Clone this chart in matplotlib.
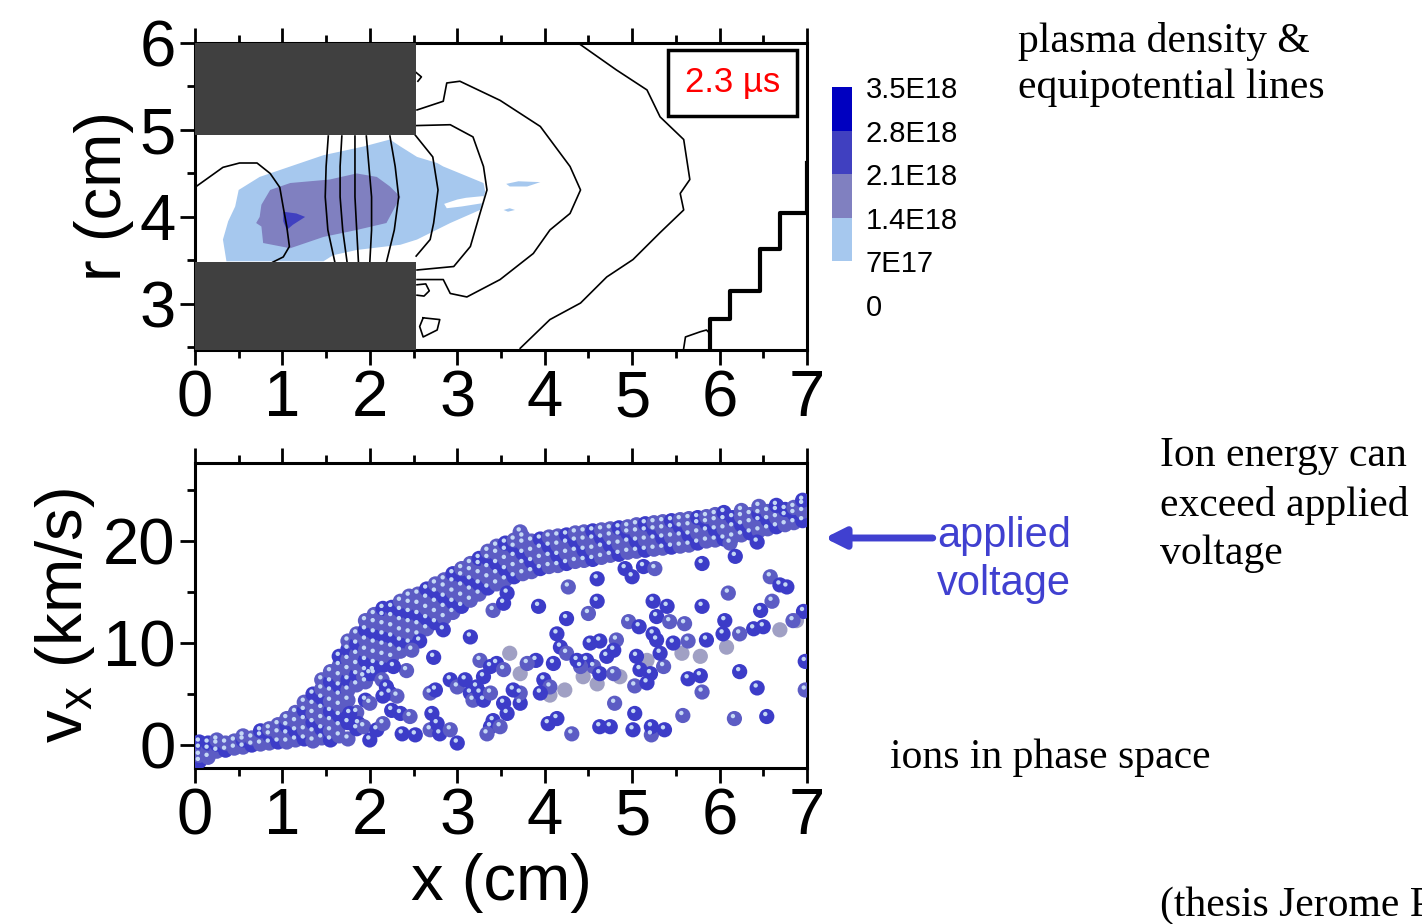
import numpy as np
import matplotlib
matplotlib.use('Agg')
import matplotlib.pyplot as plt
from matplotlib.colors import ListedColormap, BoundaryNorm
from matplotlib.cm import ScalarMappable
from matplotlib.patches import Rectangle, Polygon
from matplotlib.ticker import MultipleLocator
from matplotlib.transforms import offset_copy

plt.rcParams['font.family'] = ['Liberation Sans', 'DejaVu Sans']
plt.rcParams['mathtext.default'] = 'regular'

# ---- top panel: plasma density (filled levels) and equipotential lines ----
density_levels = [0, 7e17, 1.4e18, 2.1e18, 2.8e18, 3.5e18]
density_labels = ['0', '7E17', '1.4E18', '2.1E18', '2.8E18', '3.5E18']
density_colors = ['white', '#A6C8EE', '#8080C0', '#4040C0', '#0000C0']

# density regions (outline in x[cm], r[cm]) and the density value inside
light_x = [0.36, 0.32, 0.38, 0.46, 0.50, 0.74, 1.09, 1.47, 1.93, 2.23, 2.35, 2.54, 2.77, 2.84,
           3.30, 3.32, 3.26, 2.92, 2.54, 2.35, 1.85, 1.58, 1.47]
light_r = [3.49, 3.74, 3.95, 4.12, 4.31, 4.46, 4.58, 4.71, 4.81, 4.89, 4.81, 4.69, 4.62, 4.58,
           4.39, 4.29, 4.08, 3.93, 3.74, 3.68, 3.62, 3.56, 3.49]
patch1_x = [3.56, 3.70, 3.95, 3.80, 3.60]
patch1_r = [4.38, 4.41, 4.40, 4.35, 4.35]
patch2_x = [3.53, 3.60, 3.66, 3.58]
patch2_r = [4.08, 4.10, 4.08, 4.06]
hole_x = [2.85, 3.00, 3.10, 3.30, 3.30, 3.05, 2.88]
hole_r = [4.15, 4.20, 4.22, 4.24, 4.16, 4.12, 4.10]
mid_x = [0.76, 0.86, 1.09, 1.54, 1.85, 2.08, 2.23, 2.35, 2.19, 1.85, 1.47, 1.09, 0.78, 0.76, 0.70, 0.74]
mid_r = [4.14, 4.31, 4.39, 4.43, 4.50, 4.46, 4.35, 4.23, 3.93, 3.85, 3.77, 3.64, 3.70, 3.89, 3.93, 4.00]
core_x = [1.01, 1.16, 1.26, 1.12, 1.05, 1.01]
core_r = [4.06, 4.04, 4.00, 3.91, 3.85, 3.95]
light_val, mid_val, core_val = 1.0e18, 1.7e18, 2.4e18

# equipotential lines
equi_lines = [
    ([0.00, 0.32, 0.51, 0.71, 0.86, 0.97, 1.01, 1.05, 1.08, 1.01, 0.89],
     [4.34, 4.57, 4.62, 4.62, 4.50, 4.34, 4.11, 3.89, 3.66, 3.54, 3.48]),
    ([1.525, 1.50, 1.49, 1.52, 1.60], [4.93, 4.58, 4.23, 3.85, 3.48]),
    ([1.68, 1.66, 1.66, 1.69, 1.74], [4.93, 4.58, 4.23, 3.85, 3.48]),
    ([1.83, 1.83, 1.83, 1.85, 1.87], [4.93, 4.58, 4.23, 3.85, 3.48]),
    ([1.96, 1.99, 2.02, 2.02, 2.00], [4.93, 4.58, 4.23, 3.85, 3.48]),
    ([2.23, 2.29, 2.33, 2.28, 2.19], [4.93, 4.58, 4.23, 3.85, 3.48]),
    ([2.52, 2.72, 2.78, 2.73, 2.69, 2.53], [4.94, 4.69, 4.31, 3.93, 3.74, 3.55]),
    ([2.52, 2.92, 3.18, 3.30, 3.34, 3.26, 3.15, 2.96, 2.54],
     [5.05, 5.06, 4.92, 4.58, 4.31, 4.04, 3.66, 3.43, 3.39]),
    ([2.54, 2.84, 2.88, 3.03, 3.49, 3.95, 4.29, 4.41, 4.29, 4.06, 3.87, 3.49, 3.11, 2.92, 2.84, 2.54],
     [5.23, 5.33, 5.54, 5.56, 5.34, 5.04, 4.58, 4.31, 4.04, 3.85, 3.58, 3.28, 3.08, 3.12, 3.28, 3.28]),
    ([4.41, 4.82, 5.17, 5.32, 5.59, 5.66, 5.55, 5.59, 5.32, 5.01, 4.71, 4.41, 4.06, 3.72],
     [5.98, 5.69, 5.46, 5.15, 4.89, 4.43, 4.27, 4.08, 3.82, 3.51, 3.31, 3.01, 2.82, 2.49]),
    ([2.61, 2.80, 2.77, 2.61, 2.57, 2.61], [2.84, 2.82, 2.70, 2.62, 2.74, 2.84]),
    ([2.54, 2.64, 2.68, 2.62, 2.54], [3.22, 3.23, 3.15, 3.09, 3.10]),
    ([2.53, 2.59, 2.55], [5.66, 5.61, 5.56]),
    ([5.59, 5.61, 5.78, 5.85, 5.89], [2.49, 2.62, 2.68, 2.70, 2.66]),
]
stair_x = [7.00, 7.00, 6.69, 6.69, 6.46, 6.46, 6.12, 6.12, 5.89, 5.89]
stair_r = [4.62, 4.04, 4.04, 3.63, 3.63, 3.15, 3.15, 2.83, 2.83, 2.47]

# electrodes (x0, x1, r0, r1)
electrodes = [(0.0, 2.53, 4.94, 6.0), (0.0, 2.53, 2.47, 3.48)]

# ---- bottom panel: ions in phase space (x [cm], vx [km/s]) ----
band_cols = [round(0.05 + 0.1 * i, 2) for i in range(70)]
band_vs = [
    [-1.6, -1.0, -0.3, 0.3], [-1.2, -0.4, 0.2], [-0.6, 0.1, 0.5], [-0.5, 0.2], [-0.3, 0.4],
    [-0.2, 0.5, 0.9], [0.0, 0.7], [0.1, 0.9, 1.4], [0.2, 1.0, 1.6], [0.3, 1.2, 2.0],
    [0.3, 1.1, 1.9, 2.6], [0.5, 1.4, 2.3, 3.2], [0.6, 1.5, 2.5, 3.4, 4.2],
    [0.4, 1.3, 2.2, 3.1, 4.0, 5.0], [0.7, 1.6, 2.6, 3.6, 4.6, 5.5, 6.4],
    [0.5, 1.4, 2.4, 3.3, 4.3, 5.3, 6.2, 7.2], [0.9, 1.9, 2.9, 3.9, 4.9, 5.8, 6.8, 7.8, 8.7],
    [0.6, 2.2, 4.4, 5.4, 6.4, 7.4, 8.4, 9.4, 10.2], [1.6, 3.2, 5.9, 6.9, 7.9, 8.9, 9.9, 10.9],
    [6.2, 7.3, 8.3, 9.3, 10.3, 11.3, 12.2], [7.0, 8.0, 9.0, 10.0, 11.0, 12.0, 12.8],
    [7.8, 8.8, 9.8, 10.8, 11.8, 12.7, 13.4], [8.6, 9.6, 10.6, 11.6, 12.6, 13.5],
    [9.2, 10.2, 11.2, 12.2, 13.2, 14.1], [10.0, 11.0, 12.0, 13.0, 13.9, 14.6],
    [10.8, 11.8, 12.8, 13.8, 14.8], [11.4, 12.4, 13.4, 14.4, 15.3], [12.0, 13.0, 14.0, 15.0, 15.8],
    [12.5, 13.5, 14.5, 15.5, 16.2], [13.0, 14.0, 15.0, 16.0, 16.8], [13.6, 14.6, 15.6, 16.6, 17.3],
    [14.2, 15.2, 16.2, 17.1, 17.8], [14.8, 15.8, 16.8, 17.7, 18.3], [15.4, 16.4, 17.4, 18.3, 19.0],
    [15.8, 16.8, 17.8, 18.8, 19.5], [16.2, 17.2, 18.2, 19.1, 19.8], [16.5, 17.5, 18.5, 19.4, 20.1],
    [16.8, 17.8, 18.8, 19.8, 20.4], [17.0, 18.0, 19.0, 20.0], [17.3, 18.3, 19.3, 20.2],
    [17.5, 18.5, 19.5, 20.4], [17.6, 18.6, 19.6, 20.5], [17.8, 18.8, 19.8, 20.6],
    [18.0, 19.0, 20.0, 20.8], [18.1, 19.1, 20.1, 20.9], [18.2, 19.2, 20.2, 21.0],
    [18.4, 19.4, 20.3, 21.1], [18.6, 19.6, 20.5, 21.2], [18.7, 19.7, 20.6, 21.3],
    [18.9, 19.9, 20.8, 21.4], [19.0, 20.0, 20.9, 21.6], [19.1, 20.1, 21.0, 21.7],
    [19.2, 20.2, 21.1, 21.8], [19.3, 20.3, 21.2, 21.9], [19.4, 20.4, 21.3, 22.0],
    [19.5, 20.5, 21.4, 22.1], [19.6, 20.6, 21.5, 22.2], [19.8, 20.8, 21.7, 22.3],
    [20.0, 21.0, 21.8, 22.4], [20.1, 21.1, 22.0, 22.6], [20.2, 21.2, 22.1, 22.8],
    [20.4, 21.4, 22.3], [20.6, 21.6, 22.4, 23.0], [20.8, 21.8, 22.6], [21.0, 22.0, 22.7, 23.4],
    [21.2, 22.1, 22.9], [21.4, 22.3, 23.0, 23.5], [21.6, 22.5, 23.1], [21.8, 22.7, 23.3],
    [22.0, 22.9, 23.6, 24.0],
]

# scattered ions below the main band
loose_x = [1.93, 2.00, 2.04, 2.14, 2.19, 2.23, 2.31, 2.15, 1.95, 2.00, 1.77, 1.87, 1.93, 2.00, 2.08,
           2.15, 2.25, 2.35, 2.46, 2.37, 2.52, 2.69, 2.77, 2.80, 2.92, 3.00, 2.71, 2.69, 2.75, 2.73,
           2.42, 2.27, 2.57, 2.48, 2.84, 2.92, 3.00, 3.09, 3.15, 3.18, 3.26, 3.30, 3.38, 3.22, 3.30,
           3.26, 3.38, 3.45, 3.53, 3.38, 3.41, 3.34, 3.53, 3.15, 3.41, 3.53, 3.57,
           3.72, 3.93, 4.25, 4.50, 4.60, 4.60, 4.27, 4.92, 5.13, 5.26, 5.00, 5.80, 6.12, 6.18, 6.43,
           6.58, 6.69, 6.77, 6.10, 5.80, 6.47, 6.60, 6.96, 6.06, 5.60, 5.24, 5.40, 4.96, 5.08, 5.28,
           5.43, 5.24, 5.47, 5.64, 5.85, 6.04, 6.23, 6.39, 6.50, 6.84,
           4.14, 4.18, 4.25, 4.10, 3.90, 3.80, 4.52, 4.63, 4.82, 4.71, 4.79, 4.56, 4.48, 4.63, 4.79,
           5.05, 5.09, 5.03, 5.17, 5.21, 5.36, 5.32, 5.28, 4.41, 4.37, 3.99, 4.06, 3.95, 3.72, 3.72,
           3.64, 3.57, 3.49, 4.04, 4.14, 4.31, 4.63, 4.75, 4.80, 5.03, 5.01, 5.22, 5.37, 5.22, 5.58,
           5.64, 5.78, 5.80, 6.23, 6.43, 6.17, 6.54, 6.98, 6.98]
loose_v = [6.7, 7.0, 7.3, 6.4, 5.7, 5.1, 4.8, 4.8, 4.4, 4.1, 3.1, 2.1, 1.8, 0.5, 1.5,
           2.1, 3.4, 3.1, 2.8, 1.1, 1.0, 1.5, 2.1, 1.1, 1.5, 0.2, 3.1, 5.1, 5.4, 8.6,
           7.3, 7.7, 10.2, 9.3, 11.3, 6.4, 5.7, 6.4, 5.1, 4.4, 5.1, 4.4, 5.1, 5.7, 6.7,
           8.3, 7.7, 8.0, 7.4, 1.8, 2.4, 1.1, 4.1, 10.6, 13.2, 13.9, 14.9,
           20.9, 13.6, 12.4, 12.9, 14.1, 16.3, 15.5, 17.3, 17.5, 17.3, 16.5, 17.8, 19.8, 18.5, 19.9,
           16.5, 15.7, 15.5, 14.9, 13.6, 13.2, 14.1, 13.1, 12.2, 11.9, 14.1, 13.6, 12.1, 11.6, 12.6,
           12.1, 10.9, 10.0, 10.2, 10.3, 10.9, 10.9, 11.4, 11.6, 12.2,
           10.9, 9.6, 9.0, 8.0, 8.3, 8.0, 10.0, 10.2, 10.3, 8.7, 9.3, 7.7, 8.3, 7.0, 7.0,
           8.7, 7.4, 5.8, 6.1, 7.0, 7.7, 9.0, 10.3, 7.7, 8.3, 6.4, 5.7, 5.1, 4.1, 5.1,
           5.4, 3.1, 1.8, 2.1, 2.6, 1.1, 1.8, 1.8, 4.1, 3.1, 1.5, 1.0, 1.5, 1.8, 2.9,
           6.5, 6.8, 5.2, 7.2, 5.6, 2.6, 2.8, 8.2, 5.4]

# slower grey trail of ions
trail_x = [3.60, 3.72, 4.06, 4.23, 4.44, 4.60, 4.86, 5.17, 5.57, 5.78, 6.08, 6.69, 6.88]
trail_v = [9.0, 7.0, 4.9, 5.4, 6.7, 6.0, 6.7, 8.3, 9.0, 8.7, 9.6, 11.3, 12.2]

# ---- figure ----
fig = plt.figure(figsize=(14.22, 9.24), dpi=100)
ax1 = fig.add_axes([0.1371, 0.6212, 0.4304, 0.3323])
ax2 = fig.add_axes([0.1371, 0.1688, 0.4304, 0.3301])
cax = fig.add_axes([0.5851, 0.6699, 0.0141, 0.2359])

cmap = ListedColormap(density_colors)
norm = BoundaryNorm(density_levels, cmap.N)

for xs, rs, val in [(light_x, light_r, light_val), (patch1_x, patch1_r, light_val),
                    (patch2_x, patch2_r, light_val), (mid_x, mid_r, mid_val),
                    (core_x, core_r, core_val)]:
    ax1.add_patch(Polygon(np.column_stack([xs, rs]), closed=True, facecolor=cmap(norm(val)),
                          edgecolor='none', zorder=1))
ax1.add_patch(Polygon(np.column_stack([hole_x, hole_r]), closed=True, facecolor='white',
                      edgecolor='none', zorder=1))

for xs, rs in equi_lines:
    ax1.plot(xs, rs, color='black', lw=1.2, zorder=2)
ax1.plot(stair_x, stair_r, color='black', lw=3, zorder=2)

for x0, x1, r0, r1 in electrodes:
    ax1.add_patch(Rectangle((x0, r0), x1 - x0, r1 - r0, facecolor='#404040', edgecolor='none', zorder=3))

ax1.add_patch(Rectangle((5.41, 5.16), 1.48, 0.76, facecolor='white', edgecolor='black', lw=2.5, zorder=4))
ax1.text(6.15, 5.54, '2.3 µs', color='red', fontsize=25, ha='center', va='center', zorder=5)

ax1.set_xlim(0, 7)
ax1.set_ylim(2.47, 6.0)
ax1.yaxis.set_major_locator(MultipleLocator(1))
ax1.yaxis.set_minor_locator(MultipleLocator(0.5))
ax1.set_ylabel('r (cm)', fontsize=47, labelpad=4)

cb = fig.colorbar(ScalarMappable(norm=norm, cmap=cmap), cax=cax, ticks=density_levels)
cb.outline.set_visible(False)
cb.ax.set_yticklabels(density_labels)
cb.ax.tick_params(length=0, pad=10, labelsize=21)

# phase space scatter with a small highlight to look like spheres
px, pv, pc = [], [], []
for i, (xc, vs) in enumerate(zip(band_cols, band_vs)):
    for j, v in enumerate(vs):
        px.append(xc)
        pv.append(v)
        pc.append('#5C5CC4' if (i + j) % 3 else '#3C3CC8')
lc = ['#3C3CC8' if k % 3 else '#5C5CC4' for k in range(len(loose_x))]

dot = 120
ax2.scatter(trail_x, trail_v, s=dot, color='#A0A0C4', edgecolors='none', zorder=2)
ax2.scatter(px, pv, s=dot, c=pc, edgecolors='none', zorder=3)
ax2.scatter(loose_x, loose_v, s=dot, c=lc, edgecolors='none', zorder=3)
hl = offset_copy(ax2.transData, fig=fig, x=-1.5, y=2.5, units='dots')
ax2.scatter(px + loose_x, pv + loose_v, s=10, color='#C4D8F4', edgecolors='none',
            transform=hl, zorder=4)

ax2.set_xlim(0, 7)
ax2.set_ylim(-2.25, 27.65)
ax2.yaxis.set_major_locator(MultipleLocator(10))
ax2.yaxis.set_minor_locator(MultipleLocator(5))
ax2.set_ylabel('v$_x$ (km/s)', fontsize=47, labelpad=4)
ax2.set_xlabel('x (cm)', fontsize=47, labelpad=4)

for ax in (ax1, ax2):
    ax.xaxis.set_major_locator(MultipleLocator(1))
    ax.xaxis.set_minor_locator(MultipleLocator(0.5))
    ax.tick_params(which='both', direction='out', top=True, right=False, width=2)
    ax.tick_params(which='major', length=11, labelsize=47, pad=3)
    ax.tick_params(which='minor', length=6)
    for sp in ax.spines.values():
        sp.set_linewidth(2.2)

# arrow marking the applied voltage
ax2.annotate('', xy=(7.17, 20.3), xytext=(8.47, 20.3), xycoords='data',
             arrowprops=dict(arrowstyle='-|>,head_length=1.2,head_width=0.6', color='#4040D0', lw=5),
             annotation_clip=False)
fig.text(0.659, 0.394, 'applied\nvoltage', color='#4040D0', fontsize=30, ha='left', va='center',
         linespacing=1.25)

serif = ['Liberation Serif', 'DejaVu Serif']
fig.text(0.716, 0.930, 'plasma density &\nequipotential lines', fontsize=30, family=serif,
         ha='left', va='center', linespacing=1.25)
fig.text(0.816, 0.4535, 'Ion energy can\nexceed applied\nvoltage', fontsize=30, family=serif,
         ha='left', va='center', linespacing=1.34)
fig.text(0.626, 0.180, 'ions in phase space', fontsize=30, family=serif, ha='left', va='center')
fig.text(0.816, 0.020, '(thesis Jerome P.)', fontsize=30, family=serif, ha='left', va='center')

fig.savefig('out.png', dpi=100)
